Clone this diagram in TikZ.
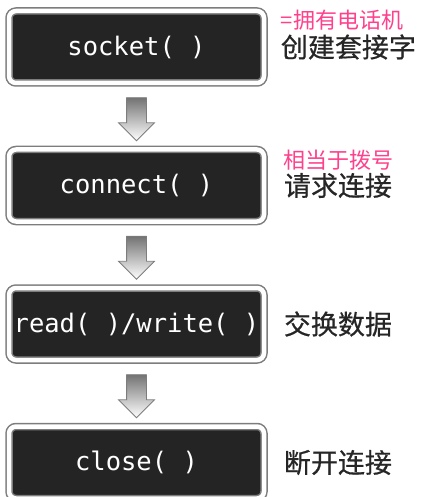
\documentclass[tikz,border=0pt]{standalone}
\usepackage{fontspec}
\usepackage{xcolor}
\usepackage{tikz}
\usetikzlibrary{positioning,calc,shapes.arrows}
\setmonofont{DejaVu Sans Mono}
\newfontfamily\cjk{Noto Sans CJK SC}
\newfontfamily\cjkb[FakeBold=0.6]{Noto Sans CJK SC}
\definecolor{Slate}{RGB}{36,36,36}
\definecolor{Rim}{RGB}{125,125,125}
\definecolor{Note}{RGB}{255,64,140}
\tikzset{
  call/.style={draw=Rim,line width=1.5pt,double=white,double distance=4.5pt,fill=Slate,rounded corners=7pt,
    minimum width=255pt,minimum height=72pt,inner sep=0pt,text=white,font=\ttfamily\fontsize{25.5}{25.5}\selectfont},
  desc/.style={font=\cjkb\fontsize{27}{27}\selectfont,text=black!85,inner sep=0pt},
  note/.style={font=\cjk\fontsize{22}{22}\selectfont,text=Note,inner sep=0pt},
  flow/.style={single arrow,rotate=-90,draw=Rim,line width=0.8pt,top color=black!55,bottom color=white,
    minimum height=43pt,inner xsep=0pt,inner ysep=9.5pt,single arrow head extend=8pt,single arrow head indent=0pt},
}
\begin{document}
\begin{tikzpicture}[node distance=65pt]
  \useasboundingbox (0,0) rectangle (423pt,-497pt);
  % --- socket calls ---
  \node[call] (sock) at (136.5pt,-47pt) {socket( )};
  \node[call, below=of sock] (conn) {connect( )};
  \node[call, below=of conn] (rw) {read( )/write( )};
  \node[call, below=of rw] (close) {close( )};

  % block arrows between the calls
  \node[flow] (f1) at ($(sock.south)!0.5!(conn.north)+(0,2pt)$) {};
  \node[flow] (f2) at ($(conn.south)!0.5!(rw.north)+(0,2pt)$) {};
  \node[flow] (f3) at ($(rw.south)!0.5!(close.north)+(0,2pt)$) {};

  % --- what each call means ---
  \node[desc, right=16pt of sock] (dsock) {创建套接字};
  \node[desc, right=19pt of conn] (dconn) {请求连接};
  \node[desc, right=19pt of rw] (drw) {交换数据};
  \node[desc, right=19pt of close] (dclose) {断开连接};

  % pink side notes
  \node[note, above=4pt of dsock.north west, anchor=south west] (nsock) {=拥有电话机};
  \node[note, above=2pt of dconn.north west, anchor=south west] (nconn) {相当于拨号};
\end{tikzpicture}
\end{document}
